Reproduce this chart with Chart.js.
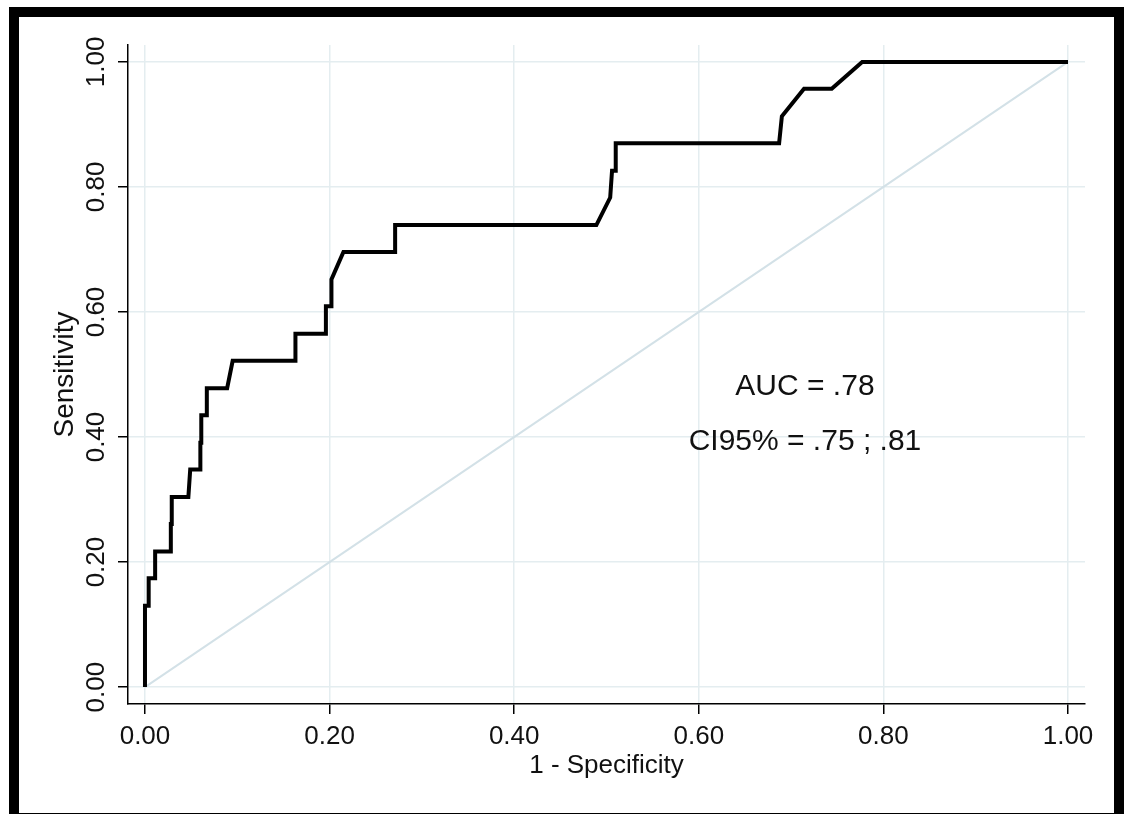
<!DOCTYPE html>
<html>
<head>
<meta charset="utf-8">
<title>ROC curve</title>
<script src="https://cdn.jsdelivr.net/npm/chart.js@4"></script>
<style>
  html, body { margin: 0; padding: 0; background: #fff; overflow: hidden; }
  #wrap { position: relative; width: 1127px; height: 814px; }
  #roc { position: absolute; left: 0; top: 0; }
  /* cadre noir autour du graphique */
  #frame {
    position: absolute; left: 9px; top: 7px; width: 1115px; height: 816px;
    box-sizing: border-box; border: 10px solid #000; pointer-events: none;
  }
</style>
</head>
<body>
<div id="wrap">
  <canvas id="roc" width="1127" height="814"></canvas>
  <div id="frame"></div>
</div>
<script>
// ============================================================
// DONNÉES
// ============================================================

// 1 - spécificité
const fpr = [
  0.000, 0.000, 0.004, 0.004, 0.011, 0.011, 0.028, 0.028, 0.029, 0.029,
  0.047, 0.049, 0.060, 0.060, 0.061, 0.061, 0.067, 0.067, 0.089, 0.095,
  0.163, 0.163, 0.196, 0.196, 0.202, 0.202, 0.215, 0.271, 0.271, 0.489,
  0.504, 0.506, 0.510, 0.510, 0.687, 0.690, 0.714, 0.744, 0.777, 1.000
];
// sensibilité
const sens = [
  0.000, 0.130, 0.130, 0.174, 0.174, 0.217, 0.217, 0.261, 0.261, 0.304,
  0.304, 0.348, 0.348, 0.391, 0.391, 0.435, 0.435, 0.478, 0.478, 0.522,
  0.522, 0.565, 0.565, 0.609, 0.609, 0.652, 0.696, 0.696, 0.739, 0.739,
  0.783, 0.826, 0.826, 0.870, 0.870, 0.913, 0.957, 0.957, 1.000, 1.000
];

// diagonale de référence
const refX = [0, 1];
const refY = [0, 1];

const tickValues = [0, 0.2, 0.4, 0.6, 0.8, 1.0];

const aucLabel = "AUC = .78";
const ciLabel  = "CI95% = .75 ; .81";
const noteX    = 0.715;
const aucY     = 0.48;
const ciY      = 0.392;

// ============================================================
// STYLES
// ============================================================

const FONT      = "'Liberation Sans', Arial, sans-serif";
const GRID_COL  = "#e4edf0";
const TEXT_COL  = "#111";

function toPoints(xs, ys) {
  return xs.map((x, i) => ({ x: x, y: ys[i] }));
}

function fixedTicks(scale) {
  scale.ticks = tickValues.map(v => ({ value: v }));
}

// texte AUC / IC placé en coordonnées de données
const notePlugin = {
  id: "aucNote",
  afterDatasetsDraw(chart) {
    const { ctx, scales } = chart;
    const px = scales.x.getPixelForValue(noteX);
    ctx.save();
    ctx.font = "30px " + FONT;
    ctx.fillStyle = TEXT_COL;
    ctx.textAlign = "center";
    ctx.textBaseline = "middle";
    ctx.fillText(aucLabel, px, scales.y.getPixelForValue(aucY));
    ctx.fillText(ciLabel,  px, scales.y.getPixelForValue(ciY));
    ctx.restore();
  }
};

new Chart(document.getElementById("roc"), {
  type: "scatter",
  data: {
    datasets: [
      {
        label: "ROC",
        data: toPoints(fpr, sens),
        showLine: true,
        borderColor: "#000",
        borderWidth: 4,
        pointRadius: 0,
        tension: 0,
        order: 1,
      },
      {
        label: "Référence",
        data: toPoints(refX, refY),
        showLine: true,
        borderColor: "#d3e1e7",
        borderWidth: 2,
        pointRadius: 0,
        order: 2,
      },
    ],
  },
  options: {
    responsive: false,
    animation: false,
    layout: { padding: { left: 10, top: 45, right: 42, bottom: 10 } },
    plugins: {
      legend: { display: false },
      tooltip: { enabled: false },
    },
    scales: {
      x: {
        type: "linear",
        min: -0.0184,
        max: 1.0184,
        afterBuildTicks: fixedTicks,
        afterFit: s => { s.height = 100; },
        ticks: {
          color: TEXT_COL,
          padding: 7,
          font: { family: FONT, size: 26 },
          callback: v => v.toFixed(2),
        },
        grid: { color: GRID_COL, lineWidth: 1.5, tickColor: "#000", tickLength: 10, tickWidth: 1.5 },
        border: { color: "#000", width: 1.5 },
        title: {
          display: true, text: "1 - Specificity", color: TEXT_COL,
          font: { family: FONT, size: 26 }, padding: { top: 0, bottom: 23 },
        },
      },
      y: {
        type: "linear",
        min: -0.027,
        max: 1.027,
        afterBuildTicks: fixedTicks,
        afterFit: s => { s.width = 118; },
        ticks: {
          color: TEXT_COL,
          minRotation: 90,
          maxRotation: 90,
          crossAlign: "center",
          padding: -4,
          font: { family: FONT, size: 26 },
          callback: v => v.toFixed(2),
        },
        grid: { color: GRID_COL, lineWidth: 1.5, tickColor: "#000", tickLength: 10, tickWidth: 1.5 },
        border: { color: "#000", width: 1.5 },
        title: {
          display: true, text: "Sensitivity", color: TEXT_COL,
          font: { family: FONT, size: 28 }, padding: { top: 38, bottom: 0 },
        },
      },
    },
  },
  plugins: [notePlugin],
});
</script>
</body>
</html>
